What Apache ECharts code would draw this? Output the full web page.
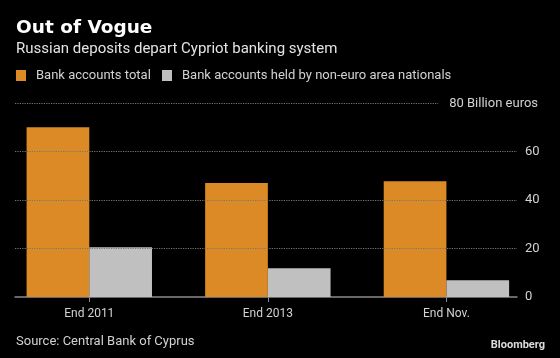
<!DOCTYPE html>
<html>
<head>
<meta charset="utf-8">
<script src="https://cdn.jsdelivr.net/npm/echarts@6/dist/echarts.min.js"></script>
<style>
html,body{margin:0;padding:0;background:#000;}
#chart{width:560px;height:358px;}
</style>
</head>
<body>
<div id="chart"></div>
<script>
const categories = ['End 2011', 'End 2013', 'End Nov.'];
const totalAccounts = [70.1, 47.1, 47.8];
const nonEuroAccounts = [20.5, 11.9, 6.9];
const gridTicks = [20, 40, 60];
const topTick = 80;
const topTickUnit = 'Billion euros';
const seriesNames = ['Bank accounts total', 'Bank accounts held by non-euro area nationals'];

const ORANGE = '#DC8A25';
const GRAY = '#C0C0C0';
const TEXT = '#d2d2d2';
const FONT = 'Roboto';

const chart = echarts.init(document.getElementById('chart'));

const legendBase = {
  icon: 'rect', itemWidth: 10, itemHeight: 11, top: 69, padding: 0,
  textStyle: { color: TEXT, fontSize: 13, fontFamily: FONT, padding: [0, 0, 0, 5] },
  selectedMode: false
};

chart.setOption({
  backgroundColor: '#000',
  animation: false,
  title: [
    { text: 'Out of Vogue', left: 16, top: 19, padding: 0,
      textStyle: { color: '#fff', fontSize: 18.5, fontWeight: 'bold', fontFamily: 'DejaVu Sans' } },
    { text: 'Russian deposits depart Cypriot banking system', left: 16, top: 42, padding: 0,
      textStyle: { color: '#e4e4e4', fontSize: 15, fontWeight: 'normal', fontFamily: FONT } },
    { text: 'Source: Central Bank of Cyprus', left: 16, top: 335, padding: 0,
      textStyle: { color: TEXT, fontSize: 13, fontWeight: 'normal', fontFamily: FONT } },
    { text: 'Bloomberg', right: 15, top: 340, padding: 0,
      textStyle: { color: '#dcdcdc', fontSize: 11, fontWeight: 'bold', fontFamily: FONT } }
  ],
  legend: [
    Object.assign({}, legendBase, { left: 16, data: [seriesNames[0]] }),
    Object.assign({}, legendBase, { left: 162, data: [seriesNames[1]] })
  ],
  grid: [
    { left: 15, right: 43, top: 103.3, bottom: 61 },
    { left: -2.4, right: 24.3, top: 103.3, bottom: 61 }
  ],
  xAxis: [
    { gridIndex: 0, type: 'value', min: 0, max: 1, show: true,
      axisLine: { show: true, onZero: false, lineStyle: { color: '#8a8a8a', width: 1.5 } },
      axisTick: { show: false }, axisLabel: { show: false }, splitLine: { show: false } },
    { gridIndex: 1, type: 'category', data: categories, boundaryGap: true,
      axisLine: { show: false },
      axisTick: { show: true, alignWithLabel: true, length: 5, lineStyle: { color: '#8a8a8a' } },
      axisLabel: { color: TEXT, fontSize: 12, fontFamily: FONT, margin: 11 } }
  ],
  yAxis: [
    { gridIndex: 0, type: 'value', position: 'right', min: 0, max: topTick, interval: 20,
      axisLine: { show: false }, axisTick: { show: false },
      splitLine: { show: false },
      axisLabel: { color: TEXT, fontSize: 13, fontFamily: FONT, margin: 8,
        formatter: v => (v === topTick ? '' : String(v)) } },
    { gridIndex: 1, type: 'value', min: 0, max: topTick, show: false }
  ],
  series: [
    { type: 'line', xAxisIndex: 0, yAxisIndex: 0, data: [], silent: true,
      markLine: {
        silent: true, symbol: 'none', animation: false,
        lineStyle: { color: '#777', type: 'dotted', width: 1.2 },
        label: { show: false },
        data: gridTicks.map(t => ({ yAxis: t })).concat([[
          { coord: [0, topTick] },
          { coord: [0.843, topTick],
            label: { show: true, position: 'end', distance: 11, color: TEXT, fontSize: 13, fontFamily: FONT,
              formatter: topTick + ' ' + topTickUnit } }
        ]])
      }
    },
    { name: seriesNames[0], type: 'bar', xAxisIndex: 1, yAxisIndex: 1, data: totalAccounts,
      barWidth: 62.7, barGap: '0%', itemStyle: { color: ORANGE } },
    { name: seriesNames[1], type: 'bar', xAxisIndex: 1, yAxisIndex: 1, data: nonEuroAccounts,
      barWidth: 62.7, barGap: '0%', itemStyle: { color: GRAY } }
  ]
});
</script>
</body>
</html>
